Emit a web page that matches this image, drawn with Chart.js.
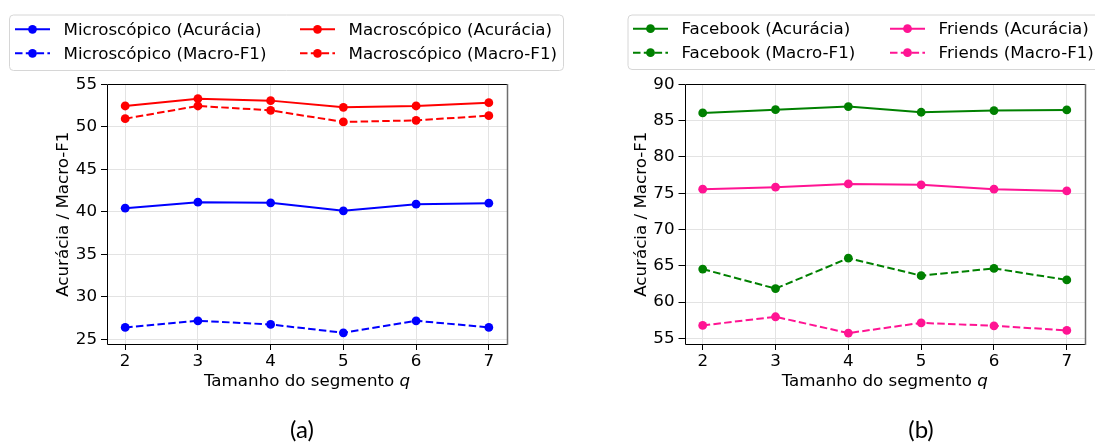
<!DOCTYPE html>
<html>
<head>
<meta charset="utf-8">
<script src="https://cdn.jsdelivr.net/npm/chart.js@4.4.1/dist/chart.umd.min.js"></script>
<style>
  html, body { margin: 0; padding: 0; background: #ffffff; }
  #wrap { position: relative; width: 1095px; height: 444px; overflow: hidden; }
  #chartA { position: absolute; left: 0; top: 0; }
  #chartB { position: absolute; left: 600px; top: 0; }
</style>
</head>
<body>
<div id="wrap">
  <canvas id="chartA" width="600" height="444"></canvas>
  <canvas id="chartB" width="495" height="444"></canvas>
</div>
<script>
// Segment size q on the horizontal axis
const segmentSizes = [2, 3, 4, 5, 6, 7];

// Panel (a): microscopic vs macroscopic models
const microAcc = [40.43, 41.14, 41.06, 40.12, 40.90, 41.02];
const microF1  = [26.41, 27.19, 26.76, 25.78, 27.19, 26.41];
const macroAcc = [52.45, 53.31, 53.08, 52.29, 52.45, 52.84];
const macroF1  = [50.96, 52.45, 51.94, 50.57, 50.76, 51.31];

// Panel (b): Facebook vs Friends datasets
const facebookAcc = [86.06, 86.51, 86.93, 86.15, 86.38, 86.47];
const facebookF1  = [64.55, 61.86, 66.05, 63.64, 64.64, 63.05];
const friendsAcc  = [75.55, 75.83, 76.28, 76.15, 75.55, 75.32];
const friendsF1   = [56.79, 57.98, 55.73, 57.14, 56.74, 56.10];

// Tick labels
const xTicks  = [2, 3, 4, 5, 6, 7];
const yTicksA = [25, 30, 35, 40, 45, 50, 55];
const yTicksB = [55, 60, 65, 70, 75, 80, 85, 90];

const FONT = "'DejaVu Sans', sans-serif";
const FS = 16.7;
const DASH = [7.5, 3.3];

function series(label, values, color, dashed) {
  return {
    label: label,
    data: segmentSizes.map((q, i) => ({ x: q, y: values[i] })),
    borderColor: color,
    backgroundColor: color,
    pointBackgroundColor: color,
    pointBorderColor: color,
    pointBorderWidth: 0,
    pointRadius: 4.4,
    borderWidth: 2,
    borderDash: dashed ? DASH : [],
    tension: 0,
    fill: false
  };
}

// Draws the frame, axis titles, legend box and panel tag on top of the plot
function decorations(opts) {
  return {
    id: 'decorations',
    afterDraw(chart) {
      const ctx = chart.ctx;
      const a = chart.chartArea;
      ctx.save();

      // frame
      ctx.lineWidth = 1;
      ctx.strokeStyle = '#000000';
      ctx.beginPath();
      ctx.moveTo(Math.round(a.left) + 0.5, Math.round(a.bottom) + 0.5);
      ctx.lineTo(Math.round(a.left) + 0.5, Math.round(a.top) + 0.5);
      ctx.lineTo(Math.round(a.right) + 0.5, Math.round(a.top) + 0.5);
      ctx.moveTo(Math.round(a.left) + 0.5, Math.round(a.bottom) + 0.5);
      ctx.lineTo(Math.round(a.right) + 0.5, Math.round(a.bottom) + 0.5);
      ctx.stroke();
      ctx.strokeStyle = '#6e6e6e';
      ctx.lineWidth = 1.5;
      ctx.beginPath();
      ctx.moveTo(Math.round(a.right) + 0.5, Math.round(a.top));
      ctx.lineTo(Math.round(a.right) + 0.5, Math.round(a.bottom) + 1);
      ctx.stroke();

      // axis titles
      ctx.fillStyle = '#000000';
      ctx.textBaseline = 'middle';
      const main = 'Tamanho do segmento ';
      ctx.font = FS + 'px ' + FONT;
      const w1 = ctx.measureText(main).width;
      ctx.font = 'italic ' + FS + 'px ' + FONT;
      const w2 = ctx.measureText('q').width;
      const cx = (a.left + a.right) / 2;
      const startX = cx - (w1 + w2) / 2;
      ctx.textAlign = 'left';
      ctx.font = FS + 'px ' + FONT;
      ctx.fillText(main, startX, opts.xTitleY);
      ctx.font = 'italic ' + FS + 'px ' + FONT;
      ctx.fillText('q', startX + w1, opts.xTitleY);

      ctx.save();
      ctx.translate(opts.yTitleX, (a.top + a.bottom) / 2);
      ctx.rotate(-Math.PI / 2);
      ctx.textAlign = 'center';
      ctx.font = FS + 'px ' + FONT;
      ctx.fillText('Acurácia / Macro-F1', 0, 0);
      ctx.restore();

      // legend box
      const lb = opts.legend;
      ctx.beginPath();
      ctx.roundRect(lb.x + 0.5, lb.y + 0.5, lb.w, lb.h, 4);
      ctx.fillStyle = 'rgba(255,255,255,0.8)';
      ctx.fill();
      ctx.strokeStyle = '#d6d6d6';
      ctx.lineWidth = 1;
      ctx.stroke();

      chart.data.datasets.forEach((ds, i) => {
        const col = Math.floor(i / 2);
        const row = i % 2;
        const x0 = lb.cols[col];
        const y0 = lb.rows[row];
        ctx.strokeStyle = ds.borderColor;
        ctx.lineWidth = 2;
        ctx.setLineDash(ds.borderDash && ds.borderDash.length ? ds.borderDash : []);
        ctx.beginPath();
        ctx.moveTo(x0, y0);
        ctx.lineTo(x0 + 35, y0);
        ctx.stroke();
        ctx.setLineDash([]);
        ctx.fillStyle = ds.borderColor;
        ctx.beginPath();
        ctx.arc(x0 + 17.5, y0, 4.4, 0, Math.PI * 2);
        ctx.fill();
        ctx.fillStyle = '#000000';
        ctx.font = FS + 'px ' + FONT;
        ctx.textAlign = 'left';
        ctx.textBaseline = 'middle';
        ctx.fillText(ds.label, x0 + 48.5, y0 + 1);
      });

      // panel tag
      ctx.fillStyle = '#000000';
      ctx.font = "24px 'Lato', sans-serif";
      ctx.textAlign = 'center';
      ctx.textBaseline = 'middle';
      ctx.fillText(opts.tag, opts.tagX, 430);

      ctx.restore();
    }
  };
}

function makeChart(canvasId, datasets, yMin, yMax, yTicks, axisWidth, padRight, deco) {
  return new Chart(document.getElementById(canvasId), {
    type: 'line',
    data: { datasets: datasets },
    options: {
      responsive: false,
      animation: false,
      devicePixelRatio: 1,
      layout: { padding: { left: 0, right: padRight, top: 84.3, bottom: 0 } },
      plugins: { legend: { display: false }, tooltip: { enabled: false } },
      scales: {
        x: {
          type: 'linear',
          min: 1.75,
          max: 7.25,
          afterBuildTicks(scale) { scale.ticks = xTicks.map(v => ({ value: v })); },
          afterFit(scale) { scale.height = 100; },
          grid: { color: '#e3e3e3', lineWidth: 1, tickLength: 6, tickColor: '#000000', drawTicks: true },
          border: { display: false },
          ticks: { color: '#000000', font: { family: FONT, size: FS }, padding: 2, maxRotation: 0 }
        },
        y: {
          type: 'linear',
          min: yMin,
          max: yMax,
          afterBuildTicks(scale) { scale.ticks = yTicks.map(v => ({ value: v })); },
          afterFit(scale) { scale.width = axisWidth; },
          grid: { color: '#e3e3e3', lineWidth: 1, tickLength: 6, tickColor: '#000000', drawTicks: true },
          border: { display: false },
          ticks: { color: '#000000', font: { family: FONT, size: FS }, padding: 4 }
        }
      }
    },
    plugins: [decorations(deco)]
  });
}

makeChart('chartA', [
  series('Microscópico (Acurácia)', microAcc, '#0000ff', false),
  series('Microscópico (Macro-F1)', microF1, '#0000ff', true),
  series('Macroscópico (Acurácia)', macroAcc, '#ff0000', false),
  series('Macroscópico (Macro-F1)', macroF1, '#ff0000', true)
], 24.46, 55, yTicksA, 107, 93, {
  xTitleY: 381.5,
  yTitleX: 64,
  tag: '(a)',
  tagX: 302,
  legend: { x: 9, y: 14.5, w: 554, h: 55.5, cols: [15, 300], rows: [29.3, 53.3] }
});

makeChart('chartB', [
  series('Facebook (Acurácia)', facebookAcc, '#008000', false),
  series('Facebook (Macro-F1)', facebookF1, '#008000', true),
  series('Friends (Acurácia)', friendsAcc, '#ff1493', false),
  series('Friends (Macro-F1)', friendsF1, '#ff1493', true)
], 54.23, 90, yTicksB, 84.5, 10, {
  xTitleY: 381.5,
  yTitleX: 42,
  tag: '(b)',
  tagX: 321,
  legend: { x: 27.5, y: 14.5, w: 560, h: 54.5, cols: [33, 290], rows: [28.7, 52.7] }
});
</script>
</body>
</html>
